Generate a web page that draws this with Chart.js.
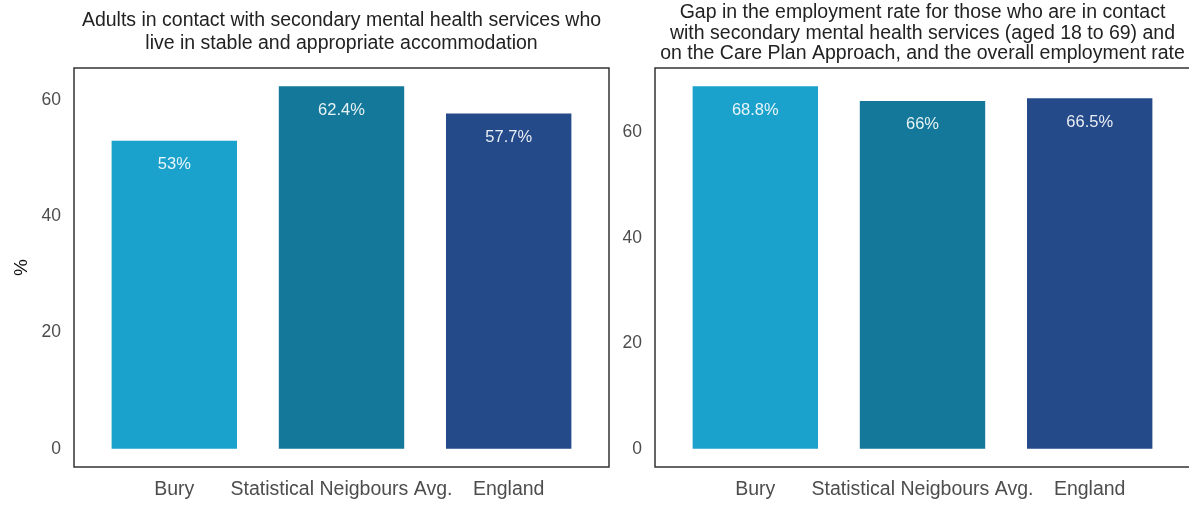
<!DOCTYPE html>
<html>
<head>
<meta charset="utf-8">
<script src="https://cdn.jsdelivr.net/npm/chart.js@4/dist/chart.umd.min.js"></script>
<style>
  html, body { margin: 0; padding: 0; background: #fff; overflow: hidden; }
  body { width: 1189px; height: 507px; position: relative; }
  .panel { position: absolute; top: 0; height: 507px; }
  #left { left: 0; width: 620px; }
  #right { left: 600px; width: 600px; }
</style>
</head>
<body>
<div class="panel" id="left"><canvas id="chartLeft"></canvas></div>
<div class="panel" id="right"><canvas id="chartRight"></canvas></div>
<script>
const categories = ['Bury', 'Statistical Neigbours Avg.', 'England'];
const accommodation = [53, 62.4, 57.7];
const employmentGap = [68.8, 66, 66.5];
const yTicks = [0, 20, 40, 60];
const barColours = ['#1aa1cc', '#137899', '#244a8a'];

const titleLeft = ['Adults in contact with secondary mental health services who',
                   'live in stable and appropriate accommodation'];
const titleRight = ['Gap in the employment rate for those who are in contact',
                    'with secondary mental health services (aged 18 to 69) and',
                    'on the Care Plan Approach, and the overall employment rate'];

const FONT = 'Liberation Sans, Arial, sans-serif';

// frame round the plot area, titles, value labels inside bars
const panelPlugin = {
    id: 'panelDeco',
    afterDatasetsDraw(chart, args, opts) {
        const ctx = chart.ctx;
        ctx.save();
        ctx.font = '16.5px ' + FONT;
        ctx.fillStyle = 'rgba(255,255,255,0.9)';
        ctx.textAlign = 'center';
        ctx.textBaseline = 'middle';
        const meta = chart.getDatasetMeta(0);
        meta.data.forEach((bar, i) => {
            const v = chart.data.datasets[0].data[i].y;
            ctx.fillText(v + '%', bar.x, bar.y + 24);
        });
        ctx.restore();
    },
    afterDraw(chart, args, opts) {
        const ctx = chart.ctx;
        const area = chart.chartArea;
        ctx.save();
        ctx.strokeStyle = '#333';
        ctx.lineWidth = 1.5;
        ctx.strokeRect(area.left, area.top, area.right - area.left, area.bottom - area.top);

        ctx.fillStyle = '#222';
        ctx.font = '19.5px ' + FONT;
        ctx.textAlign = 'center';
        ctx.textBaseline = 'middle';
        const cx = (area.left + area.right) / 2;
        opts.title.forEach((line, i) => {
            ctx.fillText(line, cx, opts.titleY + i * opts.lineGap);
        });

        if (opts.yTitle) {
            ctx.translate(22, (area.top + area.bottom) / 2);
            ctx.rotate(-Math.PI / 2);
            ctx.fillStyle = '#111';
            ctx.font = '19px ' + FONT;
            ctx.fillText(opts.yTitle, 0, 0);
        }
        ctx.restore();
    }
};

function makeChart(canvasId, values, deco, axisWidth, padRight) {
    const top = Math.max(...values);
    const config = {
        type: 'bar',
        data: {
            datasets: [{
                data: values.map((v, i) => ({ x: i + 1, y: v })),
                backgroundColor: barColours,
                borderWidth: 0,
                barPercentage: 0.75,
                categoryPercentage: 1
            }]
        },
        options: {
            responsive: true,
            maintainAspectRatio: false,
            animation: false,
            layout: { padding: { top: 68, right: padRight, left: 0, bottom: 0 } },
            plugins: {
                legend: { display: false },
                tooltip: { enabled: false },
                panelDeco: deco
            },
            scales: {
                x: {
                    type: 'linear',
                    min: 0.4,
                    max: 3.6,
                    offset: false,
                    grid: { display: false, drawTicks: false, offset: false },
                    border: { display: false },
                    afterBuildTicks: (scale) => {
                        scale.ticks = categories.map((c, i) => ({ value: i + 1 }));
                    },
                    afterFit: (scale) => { scale.height = 40; },
                    ticks: {
                        autoSkip: false,
                        maxRotation: 0,
                        padding: 11,
                        color: '#4d4d4d',
                        font: { family: FONT, size: 19.5 },
                        callback: (v) => categories[v - 1]
                    }
                },
                y: {
                    min: -0.05 * top,
                    max: 1.05 * top,
                    grid: { display: false, drawTicks: false },
                    border: { display: false },
                    afterBuildTicks: (scale) => {
                        scale.ticks = yTicks.map(v => ({ value: v }));
                    },
                    afterFit: (scale) => { scale.width = axisWidth; },
                    ticks: {
                        padding: 13,
                        color: '#4d4d4d',
                        font: { family: FONT, size: 17.5 }
                    }
                }
            }
        },
        plugins: [panelPlugin]
    };
    return new Chart(document.getElementById(canvasId), config);
}

makeChart('chartLeft', accommodation,
    { title: titleLeft, titleY: 21, lineGap: 23, yTitle: '%' }, 74, 11);
makeChart('chartRight', employmentGap,
    { title: titleRight, titleY: 13, lineGap: 20.5, yTitle: null }, 55, 10);
</script>
</body>
</html>
